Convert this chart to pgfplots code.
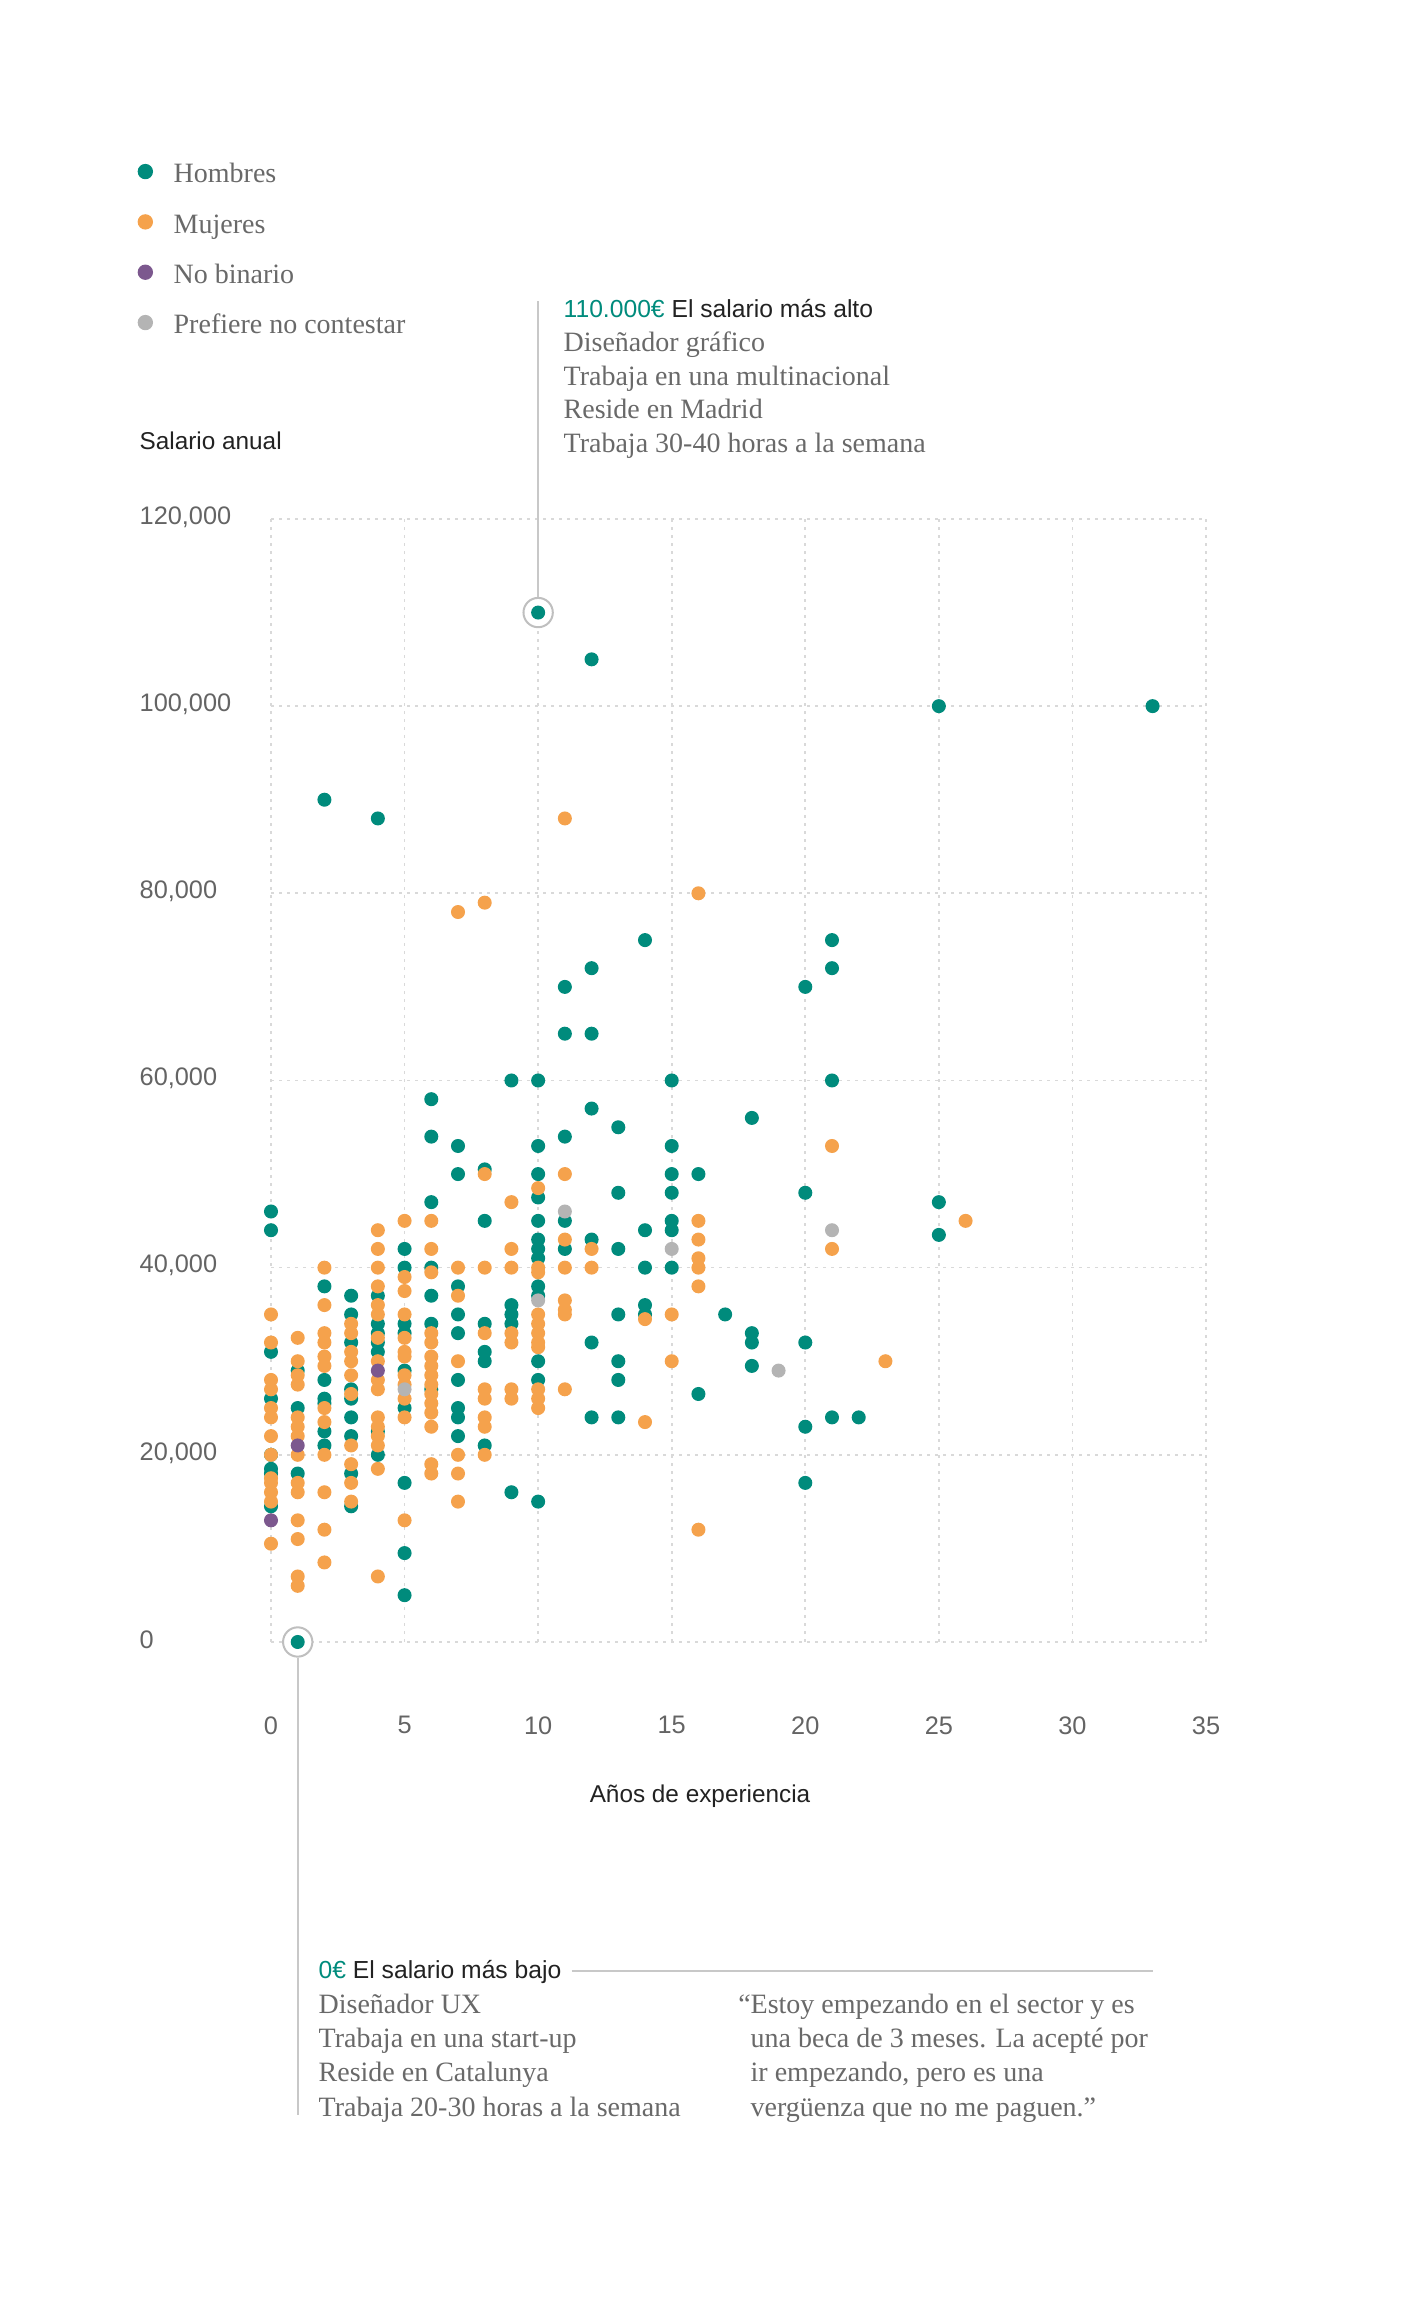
\documentclass[border=0pt]{standalone}
\usepackage{fontspec}
\setmainfont{Liberation Serif}
\setsansfont{Liberation Sans}
\usepackage{pgfplots}
\pgfplotsset{compat=1.18}
\definecolor{cH}{RGB}{0,139,124}
\definecolor{cM}{RGB}{245,162,76}
\definecolor{cN}{RGB}{124,88,142}
\definecolor{cP}{RGB}{180,180,180}
\definecolor{txtgray}{RGB}{105,105,105}
\definecolor{tickgray}{RGB}{100,100,100}
\definecolor{dark}{RGB}{34,34,34}
\definecolor{linegray}{RGB}{200,200,200}
\newcommand{\serifsz}{\rmfamily\fontsize{8.4}{10}\selectfont}
\newcommand{\sanssz}{\sffamily\fontsize{7.4}{9}\selectfont}
\begin{document}
\begin{tikzpicture}
\begin{axis}[
  at={(81.3pt,197.1pt)}, anchor=south west,
  scale only axis, width=280.5pt, height=336.9pt,
  xmin=0, xmax=35, ymin=0, ymax=120000,
  xtick={0,5,...,35}, ytick={0,20000,40000,60000,80000,100000,120000},
  scaled y ticks=false,
  axis line style={draw=none},
  tick style={draw=none},
  major tick length=0pt,
  grid=major,
  major grid style={draw=black!15, line width=0.5pt, dash pattern=on 0.8pt off 1.6pt},
  clip=false,
  tick label style={font=\sffamily\fontsize{7.6}{9}\selectfont, text=tickgray},
  /pgf/number format/.cd, fixed, precision=0, assume math mode=true, 1000 sep={,},
  /pgfplots/.cd,
  yticklabel style={anchor=west, inner sep=0pt, xshift=-39.6pt, yshift=0.6pt},
  xticklabel style={anchor=center, inner sep=0pt, yshift=-25.0pt},
  legend style={at={(-0.1426,1.3276)}, anchor=north west, draw=none, fill=none,
    inner sep=0pt, outer sep=0pt, row sep=0pt, column sep=6.2pt,
    nodes={inner sep=0pt, text height=6pt, text depth=2pt, minimum height=15.1pt, font=\serifsz, text=txtgray}},
  legend cell align=left,
  dotleg/.style={legend image code/.code={\fill[##1] (0pt,1.4pt) circle (2.1pt);}},
]
% highlight rings
\addplot[forget plot, only marks, mark=*, mark size=4.4pt,
  mark options={fill=white, draw=black!25, line width=0.6pt}]
  coordinates {(10,110000) (1,0)};
\coordinate (hi) at (axis cs:10,110000);
\coordinate (lo) at (axis cs:1,0);
% Hombres
\addplot[only marks, mark=*, mark size=1.9pt, color=cH, fill=cH, mark options={draw=none}, dotleg]
coordinates {
(0,46000)(0,44000)(0,31000)(0,26000)(0,20000)(0,18500)(0,18000)(0,14500)
(1,29000)(1,25000)(1,18000)(1,0)
(2,90000)(2,38000)(2,28000)(2,26000)(2,25500)(2,22500)(2,21000)
(3,37000)(3,35000)(3,32000)(3,27000)(3,26000)(3,24000)(3,22000)(3,18000)(3,14500)
(4,88000)(4,37000)(4,34000)(4,33000)(4,32000)(4,31000)(4,22500)(4,20000)
(5,42000)(5,40000)(5,34000)(5,33000)(5,29000)(5,25000)(5,17000)(5,9500)(5,5000)
(6,58000)(6,54000)(6,47000)(6,40000)(6,37000)(6,34000)(6,27000)
(7,53000)(7,50000)(7,38000)(7,35000)(7,33000)(7,28000)(7,25000)(7,24000)(7,22000)
(8,50500)(8,45000)(8,34000)(8,31000)(8,30000)(8,21000)
(9,60000)(9,36000)(9,35000)(9,34000)(9,16000)
(10,110000)(10,60000)(10,53000)(10,50000)(10,47500)(10,45000)(10,43000)(10,42000)(10,41000)(10,38000)(10,37000)(10,30000)(10,28000)(10,15000)
(11,70000)(11,65000)(11,54000)(11,45000)(11,42000)
(12,105000)(12,72000)(12,65000)(12,57000)(12,43000)(12,32000)(12,24000)
(13,55000)(13,48000)(13,42000)(13,35000)(13,30000)(13,28000)(13,24000)
(14,75000)(14,44000)(14,40000)(14,36000)(14,35000)
(15,60000)(15,53000)(15,50000)(15,48000)(15,45000)(15,44000)(15,40000)
(16,50000)(16,26500)
(17,35000)
(18,56000)(18,33000)(18,32000)(18,29500)
(20,70000)(20,48000)(20,32000)(20,23000)(20,17000)
(21,75000)(21,72000)(21,60000)(21,24000)
(22,24000)
(25,100000)(25,47000)(25,43500)
(33,100000)
};
\addlegendentry{Hombres}
% Mujeres
\addplot[only marks, mark=*, mark size=1.9pt, color=cM, fill=cM, mark options={draw=none}, dotleg]
coordinates {
(0,35000)(0,32000)(0,28000)(0,27000)(0,25000)(0,24000)(0,22000)(0,20000)(0,17500)(0,17000)(0,16000)(0,15000)(0,10500)
(1,32500)(1,30000)(1,28500)(1,27500)(1,24000)(1,23000)(1,22000)(1,20000)(1,17000)(1,16000)(1,13000)(1,11000)(1,7000)(1,6000)
(2,40000)(2,36000)(2,33000)(2,32000)(2,30500)(2,29500)(2,25000)(2,23500)(2,20000)(2,16000)(2,12000)(2,8500)
(3,34000)(3,33000)(3,31000)(3,30000)(3,28500)(3,26500)(3,21000)(3,19000)(3,17000)(3,15000)
(4,44000)(4,42000)(4,40000)(4,38000)(4,36000)(4,35000)(4,32500)(4,30000)(4,28000)(4,27000)(4,24000)(4,23000)(4,22000)(4,21000)(4,18500)(4,7000)
(5,45000)(5,39000)(5,37500)(5,35000)(5,32500)(5,31000)(5,30500)(5,28500)(5,27500)(5,26000)(5,24000)(5,13000)
(6,45000)(6,42000)(6,39500)(6,33000)(6,32000)(6,30500)(6,29500)(6,28500)(6,27500)(6,26500)(6,25500)(6,24500)(6,23000)(6,19000)(6,18000)
(7,78000)(7,40000)(7,37000)(7,30000)(7,20000)(7,18000)(7,15000)
(8,79000)(8,50000)(8,40000)(8,33000)(8,27000)(8,26000)(8,24000)(8,23000)(8,20000)
(9,47000)(9,42000)(9,40000)(9,33000)(9,32000)(9,27000)(9,26000)
(10,48500)(10,40000)(10,39500)(10,35000)(10,34000)(10,33000)(10,32000)(10,31500)(10,27000)(10,26000)(10,25000)
(11,88000)(11,50000)(11,43000)(11,40000)(11,36500)(11,35500)(11,35000)(11,27000)
(12,42000)(12,40000)
(14,34500)(14,23500)
(15,35000)(15,30000)
(16,80000)(16,45000)(16,43000)(16,41000)(16,40000)(16,38000)(16,12000)
(21,53000)(21,42000)
(23,30000)
(26,45000)
};
\addlegendentry{Mujeres}
% No binario
\addplot[only marks, mark=*, mark size=1.9pt, color=cN, fill=cN, mark options={draw=none}, dotleg]
coordinates {(0,13000)(1,21000)(4,29000)};
\addlegendentry{No binario}
% Prefiere no contestar
\addplot[only marks, mark=*, mark size=1.9pt, color=cP, fill=cP, mark options={draw=none}, dotleg]
coordinates {(5,27000)(10,36500)(11,46000)(15,42000)(19,29000)(21,44000)};
\addlegendentry{Prefiere no contestar}
\end{axis}
% connector lines
\draw[linegray, line width=0.6pt] (hi) ++(0,4.7pt) -- ++(0,88.8pt);
\draw[linegray, line width=0.6pt] (lo) ++(0,-4.7pt) -- ++(0,-137.2pt);
\draw[linegray, line width=0.6pt] (171.5pt,98.4pt) -- (346pt,98.4pt);
% axis titles
\node[anchor=base west, inner sep=0pt, font=\sffamily\fontsize{7.3}{9}\selectfont, text=dark] at (41.7pt,554.7pt) {Salario anual};
\node[anchor=base, inner sep=0pt, font=\sffamily\fontsize{7.3}{9}\selectfont, text=dark] at (210pt,148.9pt) {Años de experiencia};
% top annotation
\node[anchor=base west, inner sep=0pt, font=\sanssz] at (168.9pt,594.3pt) {\textcolor{cH}{110.000€} \textcolor{dark}{El salario más alto}};
\node[anchor=base west, inner sep=0pt, font=\serifsz, text=txtgray] at (168.9pt,584.2pt) {Diseñador gráfico};
\node[anchor=base west, inner sep=0pt, font=\serifsz, text=txtgray] at (168.9pt,574.1pt) {Trabaja en una multinacional};
\node[anchor=base west, inner sep=0pt, font=\serifsz, text=txtgray] at (168.9pt,564.0pt) {Reside en Madrid};
\node[anchor=base west, inner sep=0pt, font=\serifsz, text=txtgray] at (168.9pt,553.9pt) {Trabaja 30-40 horas a la semana};
% bottom annotation
\node[anchor=base west, inner sep=0pt, font=\sanssz] at (95.4pt,96.1pt) {\textcolor{cH}{0€} \textcolor{dark}{El salario más bajo}};
\node[anchor=base west, inner sep=0pt, font=\serifsz, text=txtgray] at (95.4pt,85.6pt) {Diseñador UX};
\node[anchor=base west, inner sep=0pt, font=\serifsz, text=txtgray] at (95.4pt,75.35pt) {Trabaja en una start-up};
\node[anchor=base west, inner sep=0pt, font=\serifsz, text=txtgray] at (95.4pt,65.1pt) {Reside en Catalunya};
\node[anchor=base west, inner sep=0pt, font=\serifsz, text=txtgray] at (95.4pt,54.85pt) {Trabaja 20-30 horas a la semana};
% quote
\node[anchor=base west, inner sep=0pt, font=\serifsz, text=txtgray] at (225pt,85.6pt) {\llap{“}Estoy empezando en el sector y es};
\node[anchor=base west, inner sep=0pt, font=\serifsz, text=txtgray] at (225pt,75.35pt) {una beca de 3 meses. La acepté por};
\node[anchor=base west, inner sep=0pt, font=\serifsz, text=txtgray] at (225pt,65.1pt) {ir empezando, pero es una};
\node[anchor=base west, inner sep=0pt, font=\serifsz, text=txtgray] at (225pt,54.85pt) {vergüenza que no me paguen.”};
\pgfresetboundingbox
\useasboundingbox (0,0) rectangle (420.3pt,689.7pt);
\end{tikzpicture}
\end{document}
